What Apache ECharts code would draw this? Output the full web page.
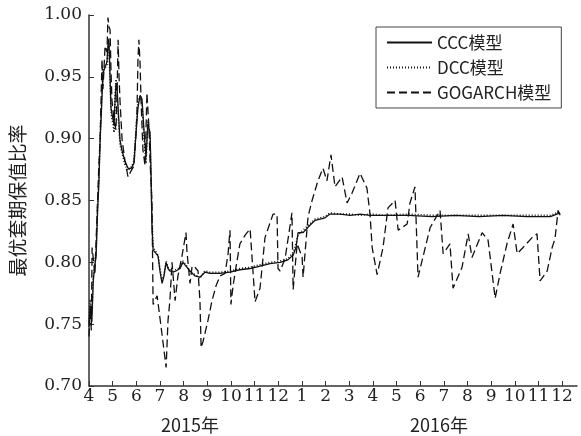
<!DOCTYPE html>
<html>
<head>
<meta charset="utf-8">
<script src="https://cdn.jsdelivr.net/npm/echarts@6/dist/echarts.min.js"></script>
<style>
  html, body { margin: 0; padding: 0; background: #fff; }
  #chart { width: 581px; height: 436px; }
</style>
</head>
<body>
<div id="chart"></div>
<script>
// x = month index counted from April 2015 (0) to December 2016 (20)
const monthLabels = ['4', '5', '6', '7', '8', '9', '10', '11', '12', '1', '2', '3', '4', '5', '6', '7', '8', '9', '10', '11', '12'];
const yearLabels = ['2015年', '2016年'];
const seriesNames = ['CCC模型', 'DCC模型', 'GOGARCH模型'];

const cccPoints = [
  [0.00, 0.748], [0.05, 0.765], [0.12, 0.752], [0.18, 0.785], [0.25, 0.798], [0.30, 0.805],
  [0.36, 0.840], [0.42, 0.865], [0.47, 0.899], [0.52, 0.920], [0.59, 0.953], [0.68, 0.958],
  [0.76, 0.962], [0.80, 0.975], [0.84, 0.981], [0.89, 0.950], [0.93, 0.925], [0.97, 0.920],
  [1.02, 0.915], [1.06, 0.911], [1.10, 0.930], [1.14, 0.945], [1.19, 0.940], [1.23, 0.925],
  [1.31, 0.899], [1.40, 0.890], [1.52, 0.882], [1.65, 0.876], [1.78, 0.876], [1.90, 0.880],
  [1.99, 0.905], [2.07, 0.925], [2.16, 0.935], [2.24, 0.932], [2.33, 0.905], [2.41, 0.885],
  [2.49, 0.912], [2.58, 0.905], [2.62, 0.874], [2.66, 0.830], [2.71, 0.810], [2.79, 0.811],
  [2.92, 0.805], [3.00, 0.793], [3.09, 0.783], [3.17, 0.789], [3.26, 0.800], [3.34, 0.795],
  [3.42, 0.793], [3.55, 0.792], [3.68, 0.793], [3.85, 0.795], [3.97, 0.800], [4.10, 0.797],
  [4.27, 0.793], [4.48, 0.789], [4.69, 0.788], [4.90, 0.792], [5.12, 0.791], [5.54, 0.791],
  [5.96, 0.792], [6.38, 0.794], [6.81, 0.795], [7.02, 0.796], [7.23, 0.797], [7.65, 0.799],
  [8.08, 0.800], [8.41, 0.802], [8.63, 0.806], [8.75, 0.812], [8.84, 0.824], [9.05, 0.824],
  [9.34, 0.830], [9.56, 0.834], [9.77, 0.835], [9.98, 0.836], [10.19, 0.839],
  [10.61, 0.839], [11.04, 0.838], [11.46, 0.839], [11.88, 0.838], [12.50, 0.838], [13.50, 0.838],
  [14.50, 0.837], [15.50, 0.838], [16.50, 0.837], [17.50, 0.838], [18.50, 0.837], [19.50, 0.837],
  [19.92, 0.840]
];

const dccPoints = [
  [0.00, 0.752], [0.05, 0.770], [0.12, 0.758], [0.18, 0.790], [0.25, 0.800], [0.30, 0.810],
  [0.36, 0.845], [0.42, 0.870], [0.47, 0.902], [0.52, 0.925], [0.59, 0.955], [0.68, 0.957],
  [0.76, 0.960], [0.80, 0.972], [0.84, 0.978], [0.89, 0.945], [0.93, 0.922], [0.97, 0.915],
  [1.02, 0.912], [1.06, 0.905], [1.10, 0.932], [1.14, 0.948], [1.19, 0.937], [1.23, 0.920],
  [1.31, 0.895], [1.40, 0.888], [1.52, 0.879], [1.65, 0.874], [1.78, 0.877], [1.90, 0.882],
  [1.99, 0.908], [2.07, 0.930], [2.16, 0.934], [2.24, 0.928], [2.33, 0.900], [2.41, 0.880],
  [2.49, 0.915], [2.58, 0.900], [2.62, 0.870], [2.66, 0.840], [2.71, 0.812], [2.79, 0.813],
  [2.92, 0.806], [3.00, 0.795], [3.09, 0.785], [3.17, 0.790], [3.26, 0.801], [3.34, 0.796],
  [3.42, 0.794], [3.55, 0.793], [3.68, 0.794], [3.85, 0.796], [3.97, 0.801], [4.10, 0.798],
  [4.27, 0.792], [4.48, 0.790], [4.69, 0.787], [4.90, 0.793], [5.12, 0.792], [5.54, 0.792],
  [5.96, 0.793], [6.38, 0.795], [6.81, 0.796], [7.02, 0.797], [7.23, 0.798], [7.65, 0.800],
  [8.08, 0.801], [8.41, 0.803], [8.63, 0.808], [8.75, 0.815], [8.84, 0.822], [9.05, 0.826],
  [9.34, 0.831], [9.56, 0.835], [9.77, 0.836], [9.98, 0.837], [10.19, 0.840],
  [10.61, 0.839], [11.04, 0.839], [11.46, 0.838], [11.88, 0.839], [12.50, 0.838], [13.50, 0.839],
  [14.50, 0.838], [15.50, 0.838], [16.50, 0.838], [17.50, 0.838], [18.50, 0.838], [19.50, 0.838],
  [19.92, 0.841]
];

const gogarchPoints = [
  [0.00, 0.740], [0.04, 0.760], [0.10, 0.745], [0.13, 0.812], [0.20, 0.800], [0.25, 0.790],
  [0.34, 0.838], [0.42, 0.880], [0.47, 0.899], [0.55, 0.964], [0.59, 0.940], [0.63, 0.955],
  [0.68, 0.975], [0.72, 0.976], [0.76, 0.970], [0.80, 0.998], [0.85, 0.990], [0.89, 0.988],
  [0.93, 0.955], [0.97, 0.931], [1.06, 0.915], [1.14, 0.907], [1.19, 0.940], [1.23, 0.980],
  [1.27, 0.950], [1.31, 0.931], [1.40, 0.899], [1.52, 0.882], [1.65, 0.869], [1.78, 0.874],
  [1.90, 0.878], [1.99, 0.905], [2.03, 0.923], [2.07, 0.964], [2.11, 0.980], [2.16, 0.960],
  [2.20, 0.931], [2.28, 0.891], [2.37, 0.878], [2.45, 0.937], [2.54, 0.907], [2.58, 0.882],
  [2.66, 0.850], [2.69, 0.800], [2.71, 0.766], [2.79, 0.765], [2.88, 0.773], [3.00, 0.755],
  [3.13, 0.735], [3.26, 0.715], [3.34, 0.753], [3.42, 0.769], [3.51, 0.800], [3.64, 0.769],
  [3.76, 0.789], [3.93, 0.805], [4.10, 0.824], [4.14, 0.809], [4.27, 0.783], [4.36, 0.797],
  [4.48, 0.796], [4.61, 0.793], [4.69, 0.769], [4.74, 0.731], [4.82, 0.736], [4.90, 0.736],
  [5.03, 0.753], [5.20, 0.769], [5.37, 0.781], [5.54, 0.789], [5.75, 0.791], [5.88, 0.807],
  [5.96, 0.826], [6.00, 0.766], [6.09, 0.781], [6.22, 0.797], [6.38, 0.815], [6.60, 0.822],
  [6.81, 0.827], [6.89, 0.827], [7.02, 0.768], [7.23, 0.779], [7.44, 0.820], [7.78, 0.839],
  [7.95, 0.839], [7.99, 0.795], [8.08, 0.793], [8.29, 0.803], [8.58, 0.840], [8.63, 0.778],
  [8.80, 0.815], [9.01, 0.804], [9.05, 0.788], [9.26, 0.837], [9.43, 0.850], [9.68, 0.866],
  [9.89, 0.876], [10.06, 0.866], [10.23, 0.887], [10.40, 0.861], [10.70, 0.869], [10.91, 0.848],
  [11.12, 0.856], [11.46, 0.872], [11.75, 0.860], [11.88, 0.839], [11.97, 0.812], [12.18, 0.790],
  [12.43, 0.812], [12.64, 0.844], [12.94, 0.850], [13.07, 0.826], [13.45, 0.831], [13.57, 0.848],
  [13.78, 0.861], [13.91, 0.788], [14.42, 0.828], [14.84, 0.842], [14.97, 0.807], [15.26, 0.815],
  [15.39, 0.779], [15.77, 0.796], [16.03, 0.823], [16.19, 0.804], [16.62, 0.824], [16.87, 0.818],
  [17.17, 0.771], [17.38, 0.791], [17.67, 0.815], [17.93, 0.831], [18.10, 0.807], [18.35, 0.812],
  [18.73, 0.820], [18.94, 0.823], [19.07, 0.785], [19.37, 0.793], [19.58, 0.812], [19.70, 0.819],
  [19.83, 0.842], [19.92, 0.838]
];

const monthTicks = monthLabels.map((_, i) => i);
const axisColor = '#333';
const numFont = 'DejaVu Serif';

const chart = echarts.init(document.getElementById('chart'));
chart.setOption({
  backgroundColor: '#fff',
  animation: false,
  grid: { left: 89, right: 4, top: 15, bottom: 50 },
  legend: {
    orient: 'vertical',
    left: 376,
    top: 27,
    width: 187,
    padding: [7, 10, 7, 10],
    itemWidth: 45,
    itemHeight: 12,
    itemGap: 8,
    borderColor: '#444',
    borderWidth: 1,
    itemStyle: { opacity: 0 },
    data: seriesNames,
    textStyle: { color: '#222', fontSize: 17, fontFamily: 'Noto Sans CJK SC' }
  },
  xAxis: {
    type: 'value',
    min: 0,
    max: 20.63,
    splitLine: { show: false },
    axisLine: { lineStyle: { color: axisColor, width: 1.5 } },
    axisTick: { inside: true, length: 5, customValues: monthTicks, lineStyle: { color: axisColor } },
    axisLabel: {
      customValues: monthTicks,
      margin: 2,
      color: '#222',
      fontSize: 17,
      fontFamily: numFont,
      formatter: v => monthLabels[Math.round(v)] || ''
    }
  },
  yAxis: {
    type: 'value',
    min: 0.70,
    max: 1.00,
    interval: 0.05,
    name: '最优套期保值比率',
    nameLocation: 'middle',
    nameRotate: 90,
    nameGap: 62,
    nameTextStyle: { color: '#222', fontSize: 19, fontFamily: 'Noto Sans CJK SC' },
    splitLine: { show: false },
    axisLine: { show: true, lineStyle: { color: axisColor, width: 1.5 } },
    axisTick: { show: true, inside: true, length: 5, lineStyle: { color: axisColor } },
    axisLabel: {
      margin: 7,
      color: '#222',
      fontSize: 17,
      fontFamily: numFont,
      formatter: v => v.toFixed(2)
    }
  },
  graphic: [
    { type: 'text', x: 190, y: 425, style: { text: yearLabels[0], fill: '#222', fontSize: 18, fontFamily: 'Noto Sans CJK SC', align: 'center', verticalAlign: 'middle' } },
    { type: 'text', x: 439, y: 425, style: { text: yearLabels[1], fill: '#222', fontSize: 18, fontFamily: 'Noto Sans CJK SC', align: 'center', verticalAlign: 'middle' } }
  ],
  series: [
    {
      name: seriesNames[0],
      type: 'line',
      data: cccPoints,
      symbol: 'none',
      z: 4,
      itemStyle: { color: '#111' },
      lineStyle: { color: '#111', width: 1.3, type: 'solid' }
    },
    {
      name: seriesNames[1],
      type: 'line',
      data: dccPoints,
      symbol: 'none',
      z: 3,
      itemStyle: { color: '#111' },
      lineStyle: { color: '#111', width: 1.6, type: [1, 2] }
    },
    {
      name: seriesNames[2],
      type: 'line',
      data: gogarchPoints,
      symbol: 'none',
      z: 2,
      itemStyle: { color: '#111' },
      lineStyle: { color: '#111', width: 1.3, type: [8, 4] }
    }
  ]
});
</script>
</body>
</html>
